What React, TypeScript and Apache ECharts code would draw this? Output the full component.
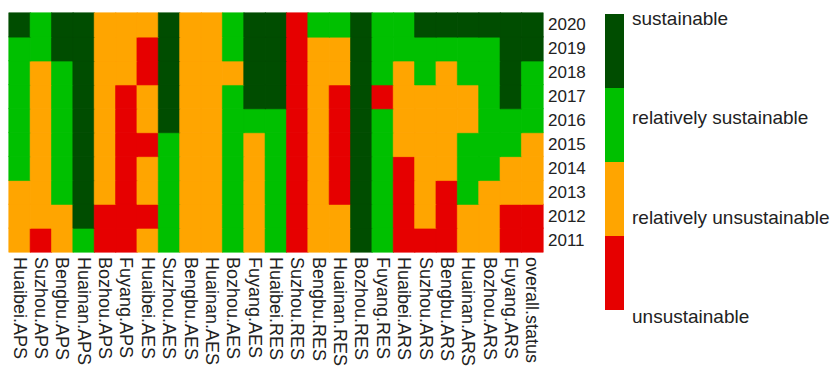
import React, { useEffect, useRef } from "react";
import * as echarts from "echarts";

const columns = [
  "Huaibei.APS", "Suzhou.APS", "Bengbu.APS", "Huainan.APS", "Bozhou.APS", "Fuyang.APS",
  "Huaibei.AES", "Suzhou.AES", "Bengbu.AES", "Huainan.AES", "Bozhou.AES", "Fuyang.AES",
  "Huaibei.RES", "Suzhou.RES", "Bengbu.RES", "Huainan.RES", "Bozhou.RES", "Fuyang.RES",
  "Huaibei.ARS", "Suzhou.ARS", "Bengbu.ARS", "Huainan.ARS", "Bozhou.ARS", "Fuyang.ARS",
  "overall.status",
];

const years = ["2011", "2012", "2013", "2014", "2015", "2016", "2017", "2018", "2019", "2020"];

// 1 = unsustainable, 2 = relatively unsustainable, 3 = relatively sustainable, 4 = sustainable
const y2011 = [2, 1, 2, 3, 1, 1, 2, 3, 2, 2, 3, 2, 3, 1, 2, 2, 4, 3, 1, 1, 1, 2, 2, 1, 1];
const y2012 = [2, 2, 2, 4, 1, 1, 1, 3, 2, 2, 3, 2, 3, 1, 2, 2, 4, 3, 1, 2, 1, 2, 2, 1, 1];
const y2013 = [2, 2, 3, 4, 2, 1, 2, 3, 2, 2, 3, 2, 3, 1, 2, 1, 4, 3, 1, 2, 1, 3, 2, 2, 2];
const y2014 = [3, 2, 3, 4, 2, 1, 2, 3, 2, 2, 3, 2, 3, 1, 2, 1, 4, 3, 1, 2, 2, 3, 3, 2, 2];
const y2015 = [3, 2, 3, 4, 2, 1, 1, 3, 2, 2, 3, 2, 3, 1, 2, 1, 4, 3, 2, 2, 2, 3, 3, 3, 2];
const y2016 = [3, 2, 3, 4, 2, 1, 2, 4, 2, 2, 3, 3, 3, 1, 2, 1, 4, 3, 2, 2, 2, 2, 3, 3, 3];
const y2017 = [3, 2, 3, 4, 2, 1, 2, 4, 2, 2, 3, 4, 4, 1, 2, 1, 4, 1, 2, 2, 2, 2, 3, 4, 3];
const y2018 = [3, 2, 3, 4, 2, 2, 1, 4, 2, 2, 2, 4, 4, 1, 2, 2, 4, 3, 2, 3, 2, 3, 3, 4, 3];
const y2019 = [3, 3, 4, 4, 2, 2, 1, 4, 2, 2, 3, 4, 4, 1, 2, 2, 4, 3, 3, 3, 3, 3, 3, 4, 4];
const y2020 = [4, 3, 4, 4, 2, 2, 2, 4, 2, 2, 3, 4, 4, 1, 3, 3, 4, 3, 3, 4, 4, 4, 4, 4, 4];

const yearRows = [y2011, y2012, y2013, y2014, y2015, y2016, y2017, y2018, y2019, y2020];

const levelLabels = ["unsustainable", "relatively unsustainable", "relatively sustainable", "sustainable"];
const levelColors = ["#e60000", "#ffa500", "#00c000", "#004d00"];

const FONT = "'Liberation Sans', Arial, sans-serif";

export default function App() {
  const ref = useRef<HTMLDivElement>(null);

  useEffect(() => {
    document.body.style.margin = "0";
    if (!ref.current) return;
    const chart = echarts.init(ref.current, undefined, { renderer: "svg" });

    const data: any[] = [];
    yearRows.forEach((row, yi) => {
      row.forEach((v, xi) => {
        const c = levelColors[v - 1];
        data.push({
          value: [xi, yi, v],
          itemStyle: { borderColor: c, borderWidth: 0.6 },
        });
      });
    });

    // legend bar (top = sustainable)
    const barX = 605;
    const barTop = 14;
    const segH = 74;
    const legendGraphics: any[] = [];
    for (let i = 0; i < 4; i++) {
      const lvl = 3 - i;
      legendGraphics.push({
        type: "rect",
        shape: { x: barX, y: barTop + i * segH, width: 19, height: segH },
        style: { fill: levelColors[lvl] },
      });
    }
    const labelYs = [18, 117, 217, 316];
    for (let i = 0; i < 4; i++) {
      legendGraphics.push({
        type: "text",
        x: 632,
        y: labelYs[i],
        style: {
          text: levelLabels[3 - i],
          fontSize: 19,
          fontFamily: FONT,
          fill: "#222",
          verticalAlign: "middle",
          align: "left",
        },
      });
    }

    chart.setOption({
      animation: false,
      backgroundColor: "#fff",
      grid: {
        left: 9,
        top: 13,
        width: 534,
        height: 239,
        containLabel: false,
        outerBoundsMode: "none",
      },
      xAxis: {
        type: "category",
        data: columns,
        axisLine: { show: false },
        axisTick: { show: false },
        splitLine: { show: false },
        axisLabel: {
          rotate: -90,
          interval: 0,
          margin: 5,
          fontSize: 18,
          fontFamily: FONT,
          color: "#222",
        },
      },
      yAxis: {
        type: "category",
        data: years,
        position: "right",
        axisLine: { show: false },
        axisTick: { show: false },
        splitLine: { show: false },
        axisLabel: {
          interval: 0,
          margin: 5,
          fontSize: 17,
          fontFamily: FONT,
          color: "#222",
          padding: [6, 0, 0, 0],
        },
      },
      visualMap: {
        type: "piecewise",
        show: false,
        dimension: 2,
        pieces: [
          { value: 1, color: levelColors[0] },
          { value: 2, color: levelColors[1] },
          { value: 3, color: levelColors[2] },
          { value: 4, color: levelColors[3] },
        ],
      },
      series: [
        {
          type: "heatmap",
          data,
          emphasis: { disabled: true },
        },
      ],
      graphic: legendGraphics,
    });

    return () => chart.dispose();
  }, []);

  return <div ref={ref} style={{ width: 832, height: 371 }} />;
}
